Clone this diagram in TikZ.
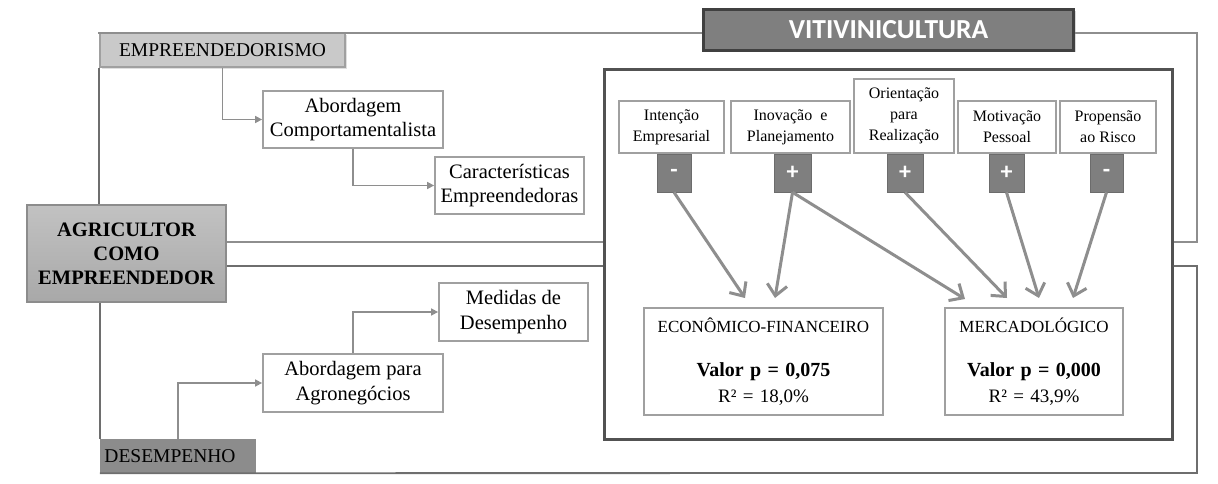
\documentclass[tikz,border=0pt]{standalone}
\usepackage{fontspec}
\setmainfont{Liberation Serif}
\newfontfamily\calib{Carlito}
\usetikzlibrary{arrows.meta,shadows}
\definecolor{lineg}{HTML}{8E8E8E}
\definecolor{lined}{HTML}{6E6E6E}
\definecolor{boxb}{HTML}{A0A0A0}
\definecolor{darkf}{HTML}{7F7F7F}
\begin{document}
\begin{tikzpicture}[x=1pt,y=-1pt,
  wbox/.style={draw=boxb,line width=1.8pt,fill=white,inner sep=0pt,align=center,
     font=\fontsize{20.5}{24.5}\selectfont},
  fbox/.style={draw=boxb,line width=1.6pt,fill=white,inner sep=0pt,align=center,
     font=\fontsize{16}{21}\selectfont},
  sbox/.style={fill=darkf,draw=darkf!85!black,line width=0.6pt,inner sep=0pt,
     minimum height=38pt,text=white,font=\calib\bfseries\fontsize{24}{24}\selectfont},
  rbox/.style={draw=boxb,line width=1.8pt,fill=white,inner sep=0pt,minimum height=107pt,
     text width=#1,align=center,font=\fontsize{19}{25}\selectfont},
  conn/.style={draw=lineg,line width=1.8pt},
  conn2/.style={draw=lined,line width=1.8pt},
  sarrow/.style={draw=lineg,line width=1.6pt,-{Triangle[length=7pt,width=7pt]}},
  barrow/.style={draw=lineg,line width=3pt,-{Straight Barb[length=11pt,width=20pt,line width=3pt]}},
]
\useasboundingbox (0,0) rectangle (1218,484);

% coordinates for y levels
\coordinate (yA) at (0,242);
\coordinate (yB) at (0,266);
\coordinate (xR) at (1197,0);
\coordinate (yT) at (0,33);
\coordinate (yD) at (0,473);

% main nodes
\node[draw=boxb,line width=1.5pt,fill=black!21,minimum width=245pt,minimum height=34pt,inner sep=0pt,
  drop shadow={shadow xshift=2pt,shadow yshift=-2pt,opacity=0.25},
  font=\fontsize{19.5}{24}\selectfont] (emp) at (222.5,50) {EMPREENDEDORISMO};
\node[draw=black!45,line width=1.5pt,top color=black!24,bottom color=black!34,minimum width=199pt,minimum height=97pt,
  inner sep=0pt,align=center,font=\bfseries\fontsize{20.5}{24}\selectfont] (agr) at (126.5,253.5) {AGRICULTOR\\COMO\\EMPREENDEDOR};
\node[fill=black!45,minimum width=156pt,minimum height=34pt,inner sep=0pt,
  font=\fontsize{19.5}{24}\selectfont] (des) at (178,456) {\hspace*{-16pt}DESEMPENHO};

\node[wbox,minimum width=180pt,minimum height=57pt] (abc) at (353,119.5) {Abordagem\\Comportamentalista};
\node[wbox,minimum width=149pt,minimum height=57pt] (car) at (509.5,185.5) {Características\\Empreendedoras};
\node[wbox,minimum width=180pt,minimum height=58pt] (aba) at (353,383) {Abordagem para\\Agronegócios};
\node[wbox,minimum width=149pt,minimum height=58pt] (med) at (513.5,312) {Medidas de\\Desempenho};

\node[fill=darkf,draw=black!75,line width=3pt,minimum width=370pt,minimum height=41pt,inner sep=0pt,
  drop shadow={shadow xshift=2pt,shadow yshift=-2pt,opacity=0.3},
  text=white,font=\calib\bfseries\fontsize{27.5}{28}\selectfont] (viti) at (888.5,30) {VITIVINICULTURA};

\node[draw=black!68,line width=3pt,minimum width=568pt,minimum height=369pt,inner sep=0pt] (inner) at (888,254.5) {};

% factor boxes
\node[fbox,minimum width=105pt,minimum height=52pt] (f1) at (671.5,127) {Intenção\\Empresarial};
\node[fbox,minimum width=119pt,minimum height=52pt] (f2) at (790.5,127) {Inovação\enspace e\\Planejamento};
\node[fbox,minimum width=100pt,minimum height=74pt] (f3) at (904,116) {Orientação\\para\\Realização};
\node[fbox,minimum width=98pt,minimum height=52pt] (f4) at (1007,127) {Motivação\\Pessoal};
\node[fbox,minimum width=96pt,minimum height=52pt] (f5) at (1108,127) {Propensão\\ao Risco};

% sign boxes
\node[sbox,minimum width=34pt] (s1) at (674,173) {\raisebox{-4pt}{-}};
\node[sbox,minimum width=37pt] (s2) at (792.5,173) {\raisebox{-3pt}{+}};
\node[sbox,minimum width=36pt] (s3) at (905,173) {\raisebox{-3pt}{+}};
\node[sbox,minimum width=35pt] (s4) at (1006.5,173) {\raisebox{-3pt}{+}};
\node[sbox,minimum width=33pt] (s5) at (1106.5,173) {\raisebox{-4pt}{-}};

% result boxes
\node[rbox=236pt,minimum width=239pt] (eco) at (763.5,361.5) {%
  {\fontsize{17}{20}\selectfont ECONÔMICO-FINANCEIRO}\\[19pt]
  {\bfseries\fontsize{20}{24}\selectfont Valor p = 0,075}\\[1pt]
  R² = 18,0\%};
\node[rbox=175pt,minimum width=178pt] (mer) at (1034,361.5) {%
  {\fontsize{17}{20}\selectfont MERCADOLÓGICO}\\[19pt]
  {\bfseries\fontsize{20}{24}\selectfont Valor p = 0,000}\\[1pt]
  R² = 43,9\%};

% arrow tip targets
\coordinate (t1) at (745,298);
\coordinate (t2) at (775,298);
\coordinate (t3) at (965,299);
\coordinate (t4) at (1007,298);
\coordinate (t5) at (1039,298);
\coordinate (t6) at (1073,298);

% outer connectors
\draw[conn] (emp.north west) -- (emp.north west |- yT) -- (viti.west |- yT);
\draw[conn] (viti.east |- yT) -- (xR |- yT) -- (xR |- yA) -- (inner.east |- yA);
\draw[conn] (agr.east |- yA) -- (inner.west |- yA);
\draw[conn2] (agr.east |- yB) -- (inner.west |- yB);
\draw[conn2] (inner.east |- yB) -- (xR |- yB) -- (xR |- yD) -- (des.south west);
\draw[conn2] (emp.south west) -- (emp.west |- agr.north);
\draw[conn2] (des.west |- agr.south) -- (des.north west);

% small arrows
\draw[sarrow] (emp.south) |- (abc.west);
\draw[sarrow] (abc.south) |- (car.west);
\draw[sarrow] (des.north) |- (aba.west);
\draw[sarrow] (aba.north) |- (med.west);

% big arrows
\draw[barrow] (s1.south) -- (t1);
\draw[barrow] (s2.south) -- (t2);
\draw[barrow] (s2.south) -- (t3);
\draw[barrow] (s3.south) -- (t4);
\draw[barrow] (s4.south) -- (t5);
\draw[barrow] (s5.south) -- (t6);
\end{tikzpicture}
\end{document}
